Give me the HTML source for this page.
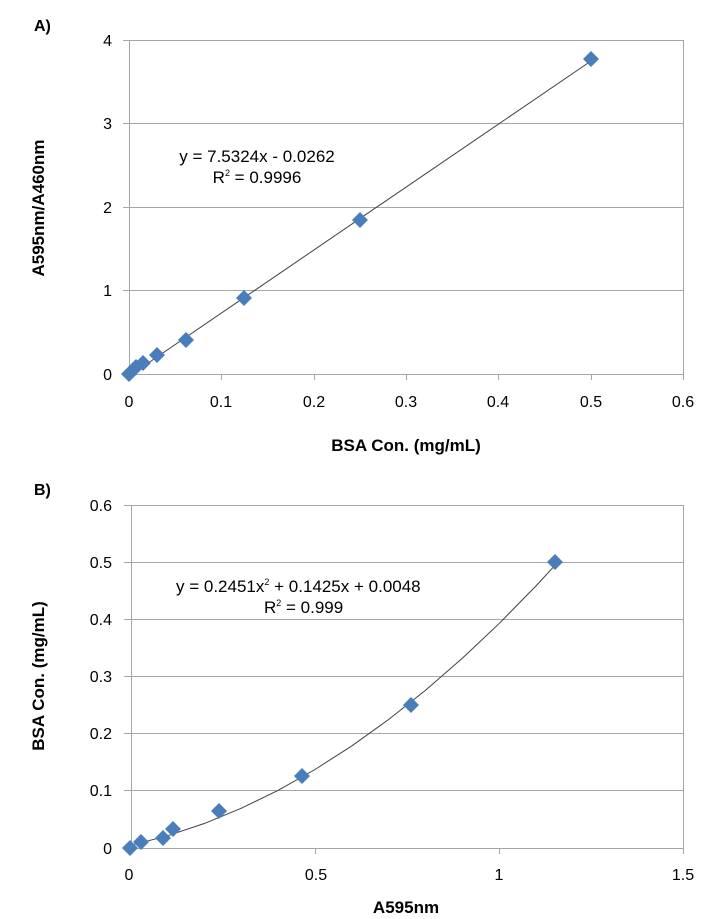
<!DOCTYPE html>
<html><head><style>body{margin:0;background:#fff}svg{display:block}text{font-family:"Liberation Sans",Arial,sans-serif;fill:#000}</style></head>
<body>
<svg width="717" height="919" xmlns="http://www.w3.org/2000/svg">
<rect width="717" height="919" fill="#fff"/>
<!-- Chart A -->
<text x="34" y="31" font-size="16" font-weight="bold">A)</text>
<g stroke="#a6a6a6" stroke-width="1">
<line x1="123" y1="40.5" x2="683" y2="40.5"/>
<line x1="123" y1="123.5" x2="683" y2="123.5"/>
<line x1="123" y1="207.5" x2="683" y2="207.5"/>
<line x1="123" y1="290.5" x2="683" y2="290.5"/>
<line x1="123" y1="374.5" x2="683" y2="374.5"/>
<line x1="129.5" y1="40" x2="129.5" y2="374"/>
<line x1="683.5" y1="40" x2="683.5" y2="380"/>
<line x1="221.5" y1="374" x2="221.5" y2="380"/>
<line x1="314.5" y1="374" x2="314.5" y2="380"/>
<line x1="406.5" y1="374" x2="406.5" y2="380"/>
<line x1="498.5" y1="374" x2="498.5" y2="380"/>
<line x1="591.5" y1="374" x2="591.5" y2="380"/>
</g>
<g font-size="16" text-anchor="end">
<text x="112" y="46">4</text><text x="112" y="129">3</text><text x="112" y="213">2</text><text x="112" y="296">1</text><text x="112" y="380">0</text>
</g>
<g font-size="16" text-anchor="middle">
<text x="129" y="407">0</text><text x="221" y="407">0.1</text><text x="314" y="407">0.2</text><text x="406" y="407">0.3</text><text x="498" y="407">0.4</text><text x="591" y="407">0.5</text><text x="683" y="407">0.6</text>
</g>
<text x="406" y="451" font-size="17" font-weight="bold" text-anchor="middle">BSA Con. (mg/mL)</text>
<text transform="translate(44,208) rotate(-90)" font-size="17" font-weight="bold" text-anchor="middle">A595nm/A460nm</text>
<text x="257" y="162" font-size="17" text-anchor="middle">y = 7.5324x - 0.0262</text>
<text x="257" y="183" font-size="17" text-anchor="middle">R<tspan font-size="9" dy="-7">2</tspan><tspan dy="7"> = 0.9996</tspan></text>
<line x1="135" y1="372" x2="591" y2="61" stroke="#404040" stroke-width="1"/>
<g fill="#4a7ebb">
<path d="M129 366l8 8-8 8-8-8z"/><path d="M136 359l8 8-8 8-8-8z"/><path d="M143 355l8 8-8 8-8-8z"/><path d="M157 347l8 8-8 8-8-8z"/><path d="M186 332l8 8-8 8-8-8z"/><path d="M244 290l8 8-8 8-8-8z"/><path d="M360 212l8 8-8 8-8-8z"/><path d="M591 51l8 8-8 8-8-8z"/>
</g>
<!-- Chart B -->
<text x="34" y="495" font-size="16" font-weight="bold">B)</text>
<g stroke="#a6a6a6" stroke-width="1">
<line x1="124" y1="505.5" x2="683" y2="505.5"/>
<line x1="124" y1="562.5" x2="683" y2="562.5"/>
<line x1="124" y1="619.5" x2="683" y2="619.5"/>
<line x1="124" y1="676.5" x2="683" y2="676.5"/>
<line x1="124" y1="733.5" x2="683" y2="733.5"/>
<line x1="124" y1="790.5" x2="683" y2="790.5"/>
<line x1="124" y1="848.5" x2="683" y2="848.5"/>
<line x1="131.5" y1="505" x2="131.5" y2="848"/>
<line x1="683.5" y1="505" x2="683.5" y2="854"/>
<line x1="315.5" y1="848" x2="315.5" y2="854"/>
<line x1="499.5" y1="848" x2="499.5" y2="854"/>
</g>
<g font-size="16" text-anchor="end">
<text x="112" y="511">0.6</text><text x="112" y="568">0.5</text><text x="112" y="625">0.4</text><text x="112" y="682">0.3</text><text x="112" y="739">0.2</text><text x="112" y="796">0.1</text><text x="112" y="854">0</text>
</g>
<g font-size="16" text-anchor="middle">
<text x="129" y="880">0</text><text x="316" y="880">0.5</text><text x="499" y="880">1</text><text x="683" y="880">1.5</text>
</g>
<text x="406" y="913" font-size="17" font-weight="bold" text-anchor="middle">A595nm</text>
<text transform="translate(44,676) rotate(-90)" font-size="17" font-weight="bold" text-anchor="middle">BSA Con. (mg/mL)</text>
<text x="176" y="592" font-size="17">y = 0.2451x<tspan font-size="9" dy="-7">2</tspan><tspan dy="7"> + 0.1425x + 0.0048</tspan></text>
<text x="264" y="613" font-size="17">R<tspan font-size="9" dy="-7">2</tspan><tspan dy="7"> = 0.999</tspan></text>
<polyline fill="none" stroke="#404040" stroke-width="1" points="131,845.3 167.8,835.7 204.6,823.4 241.4,808.2 278.2,790.3 315,769.5 351.8,745.9 388.6,719.5 425.4,690.4 462.2,658.4 499,623.7 535.8,586.1 557.9,562.2"/>
<g fill="#4a7ebb">
<path d="M130 840l8 8-8 8-8-8z"/><path d="M141 834l8 8-8 8-8-8z"/><path d="M163 830l8 8-8 8-8-8z"/><path d="M173 821l8 8-8 8-8-8z"/><path d="M219 803l8 8-8 8-8-8z"/><path d="M302 768l8 8-8 8-8-8z"/><path d="M411 697l8 8-8 8-8-8z"/><path d="M555 554l8 8-8 8-8-8z"/>
</g>
</svg>
</body></html>
